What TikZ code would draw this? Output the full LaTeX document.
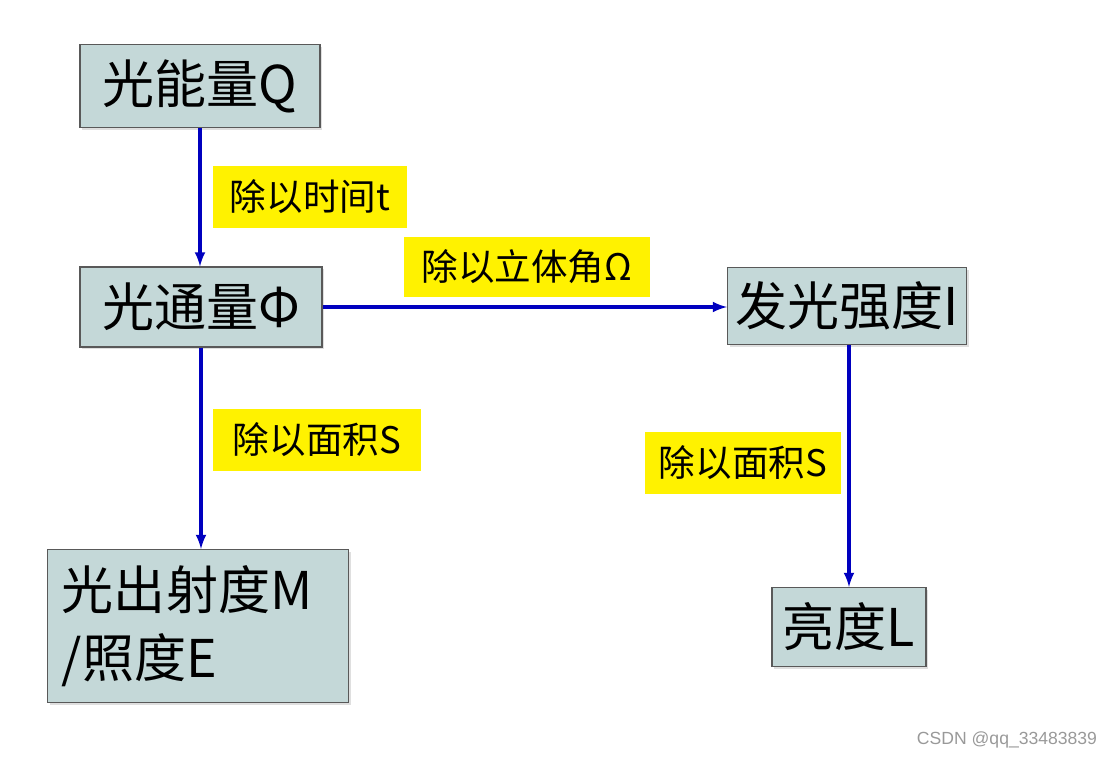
\documentclass[tikz,border=0pt]{standalone}
\usepackage{fontspec}
\setmainfont{Liberation Sans}
\newfontfamily\cjk{Noto Sans CJK SC}
\usetikzlibrary{arrows.meta}
\usetikzlibrary{shadows}
\tikzset{>=latex}
\definecolor{myboxfill}{RGB}{196,216,216}
\colorlet{myborder}{gray!70!black}
\colorlet{myblue}{blue!75!black}
\tikzset{
    qbox/.style={draw=myborder, thick, fill=myboxfill, inner sep=0pt,
        drop shadow={opacity=0.25, shadow xshift=1.5pt, shadow yshift=-1.5pt},
        font=\cjk\fontsize{37}{48}\selectfont},
    tag/.style={fill=yellow, inner sep=0pt, font=\cjk\fontsize{26}{30}\selectfont},
    flow/.style={->, line width=2.4pt, myblue}
}

\begin{document}
\begin{tikzpicture}[x=0.025cm, y=-0.025cm]
    \useasboundingbox (0, 0) rectangle (1117, 757);

    % quantities
    \node[qbox, minimum width=6cm, minimum height=2.075cm] (Q) at (200, 86) {光能量Q};
    \node[qbox, minimum width=6.05cm, minimum height=2cm] (Phi) at (201, 307) {光通量Φ};
    \node[qbox, minimum width=5.975cm, minimum height=1.925cm] (I) at (847, 306) {发光强度I};
    \node[qbox, minimum width=7.525cm, minimum height=3.825cm, text width=6.8cm, align=left] (M) at (198, 626) {光出射度M\\/照度E};
    \node[qbox, minimum width=3.85cm, minimum height=1.975cm] (L) at (849, 627) {亮度L};

    % operations
    \node[tag, minimum width=4.85cm, minimum height=1.525cm] (divt) at (310, 197) {除以时间t};
    \node[tag, minimum width=6.15cm, minimum height=1.475cm] (divo) at (527, 267) {除以立体角Ω};
    \node[tag, minimum width=5.2cm, minimum height=1.55cm] (divs) at (317, 440) {除以面积S};
    \node[tag, minimum width=4.9cm, minimum height=1.55cm] (divsb) at (743, 463) {除以面积S};

    \draw[flow] (Q.south) -- (Q.south |- Phi.north);
    \draw[flow] (Phi.east) -- (Phi.east -| I.west);
    \draw[flow] (Phi.south) -- (Phi.south |- M.north);
    \draw[flow] (I.south -| L.north) -- (L.north);

    \node[gray!80, font=\fontsize{12.5}{15}\selectfont, anchor=east] (mark) at (1102, 740) {CSDN @qq\_33483839};
\end{tikzpicture}
\end{document}
